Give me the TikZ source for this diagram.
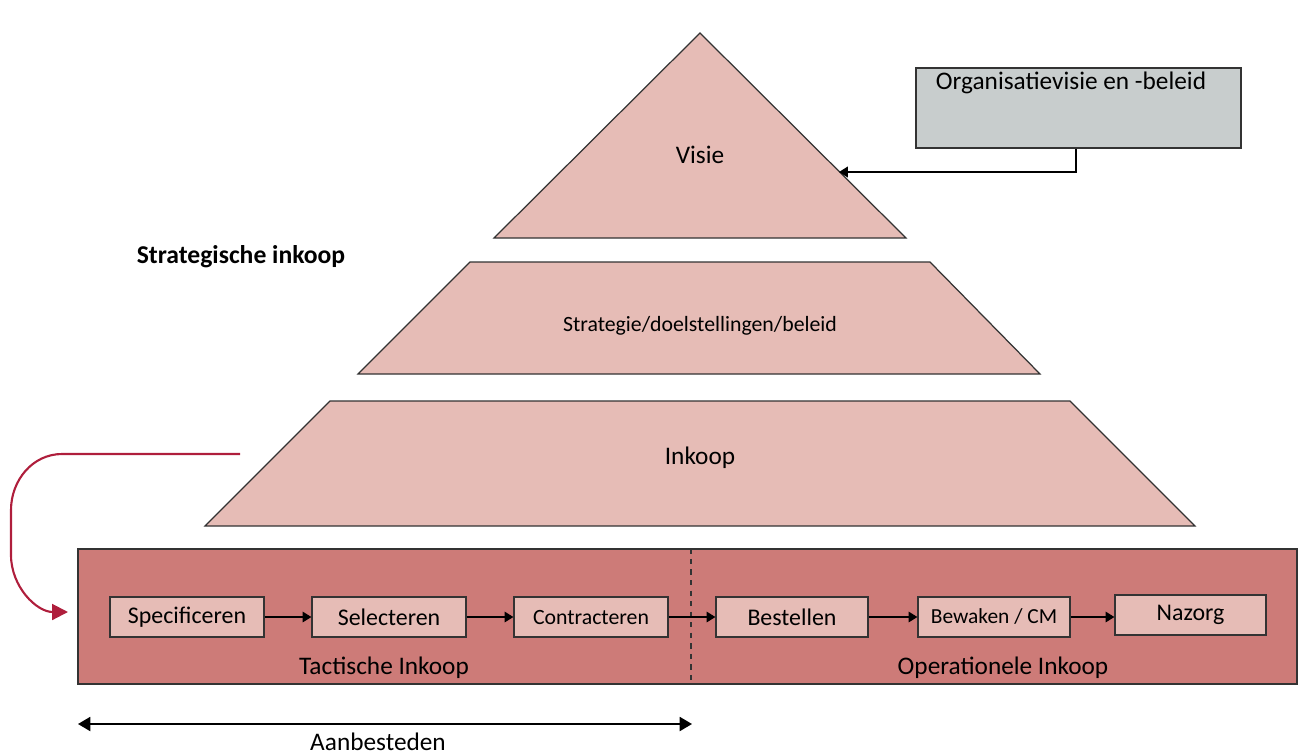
\documentclass[tikz,border=0pt]{standalone}
\usepackage{fontspec}
\setmainfont{Carlito}
\usetikzlibrary{arrows.meta}
\definecolor{pyr}{RGB}{230,188,182}
\definecolor{band}{RGB}{205,123,120}
\definecolor{grey}{RGB}{200,205,205}
\definecolor{curve}{RGB}{175,30,60}
\begin{document}
\begin{tikzpicture}[x=0.02cm,y=-0.02cm,
  outline/.style={draw=black!80,line width=0.7pt},
  proc/.style={outline,fill=pyr,minimum width=154*0.02cm,minimum height=40*0.02cm,inner sep=0pt,font=\fontsize{13.6}{15}\selectfont},
  flow/.style={-{Triangle[length=5pt,width=6pt]},line width=0.8pt},
  lbl/.style={inner sep=0pt,font=\fontsize{14.4}{16}\selectfont}]
\useasboundingbox (0,0) rectangle (1299,755);
% pyramid
\draw[outline,fill=pyr] (700,33) -- (906,238) -- (494,238) -- cycle;
\draw[outline,fill=pyr] (470,262) -- (930,262) -- (1040,374) -- (358,374) -- cycle;
\draw[outline,fill=pyr] (330,401) -- (1070,401) -- (1195,526) -- (205,526) -- cycle;
\node[lbl] (visie) at (700,155) {Visie};
\node[inner sep=0pt,font=\fontsize{12.4}{14}\selectfont] (strat) at (700,326) {Strategie/doelstellingen/beleid};
\node[lbl] (inkoop) at (700,458) {Inkoop};
\node[inner sep=0pt,font=\fontsize{14.6}{16}\selectfont\bfseries] (si) at (241,257) {Strategische inkoop};
% organisation box
\node[outline,fill=grey,minimum width=325*0.02cm,minimum height=80*0.02cm,inner sep=0pt] (org) at (1078.5,108) {};
\node[lbl,anchor=north] (orgt) at (1071,72) {Organisatievisie en -beleid};
\coordinate (vt) at (839,172);
\draw[flow,line width=1pt] (org.south -| 1076,0) |- (vt);
% band
\node[outline,fill=band,minimum width=1219*0.02cm,minimum height=135*0.02cm,inner sep=0pt] (bandbox) at (687.5,616.5) {};
\draw[dashed,line width=0.6pt,black!80] (bandbox.north -| 691,0) -- (bandbox.south -| 691,0);
\node[proc] (p1) at (187,617) {Specificeren};
\node[proc] (p2) at (389,617) {Selecteren};
\node[proc,font=\fontsize{12.4}{14}\selectfont] (p3) at (591,617) {Contracteren};
\node[proc,minimum width=152*0.02cm] (p4) at (792,617) {Bestellen};
\node[proc,minimum width=152*0.02cm,font=\fontsize{12.2}{14}\selectfont] (p5) at (994,617) {Bewaken / CM};
\node[proc,minimum width=151*0.02cm] (p6) at (1190.5,615) {Nazorg};
\draw[flow] (p1) -- (p2);
\draw[flow] (p2) -- (p3);
\draw[flow] (p3) -- (p4);
\draw[flow] (p4) -- (p5);
\draw[flow] (p5.east) -- (p5.east -| p6.west);
\node[lbl] (tact) at (384,668) {Tactische Inkoop};
\node[lbl] (oper) at (1003,668) {Operationele Inkoop};
% red curved arrow
\coordinate (cs) at (240,454);
\coordinate (ce) at (68,612);
\draw[curve,line width=1.2pt,-{Triangle[length=9pt,width=9pt]}] (cs) -- (62,454) to[out=180,in=90] (11,510) -- (11,555) to[out=-90,in=180] (ce);
% aanbesteden
\coordinate (al) at (78,724);
\coordinate (ar) at (692,724);
\draw[line width=1pt,{Triangle[length=7pt,width=8pt]}-{Triangle[length=7pt,width=8pt]}] (al) -- (ar);
\node[lbl] (aan) at (378,742) {Aanbesteden};
\end{tikzpicture}
\end{document}
